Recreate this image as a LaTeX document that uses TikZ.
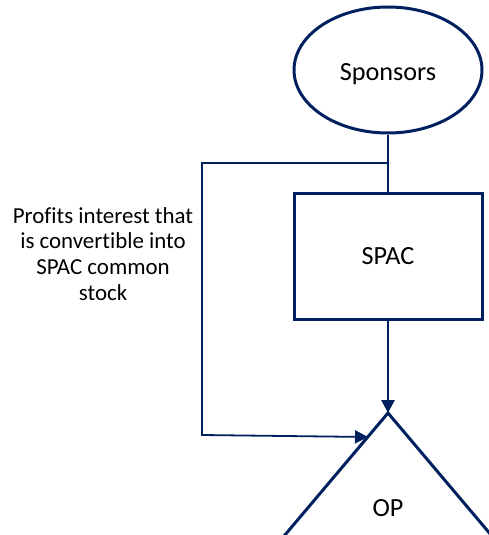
\documentclass[tikz,border=0pt]{standalone}
\usepackage{fontspec}
\setmainfont[RawFeature=-liga]{Carlito}
\usetikzlibrary{arrows.meta,shapes.geometric}
\definecolor{navy}{RGB}{0,32,96}
\begin{document}
\begin{tikzpicture}[x=1pt,y=-1pt,
  shapeline/.style={draw=navy,line width=3pt},
  thinline/.style={draw=navy,line width=1.6pt},
  boldarrow/.style={draw=navy,line width=2.8pt,-{Triangle[length=13pt,width=13pt]}},
  lightarrow/.style={draw=navy,line width=1.8pt,-{Triangle[length=13pt,width=13pt]}},
  bigtext/.style={font=\fontsize{26.2}{30}\selectfont},
  labeltext/.style={font=\fontsize{22.9}{25.8}\selectfont,align=center}
]
\useasboundingbox (0,0) rectangle (489,535);
\clip (0,0) rectangle (489,535);

% entities
\node[ellipse, shapeline, minimum width=188pt, minimum height=126pt, inner sep=0pt] (sponsors) at (388,70) {};
\node[bigtext] (sponsorsname) at (388,74.5) {Sponsors};
\node[rectangle, shapeline, minimum width=188pt, minimum height=126pt, inner sep=0pt, bigtext] (spac) at (388,256) {SPAC};

% OP triangle (base runs below the page edge)
\coordinate (apex) at (388,413);
\draw[shapeline, line join=miter] (230,600) -- (apex) -- (546,600);
\node[bigtext] (op) at (388,508) {OP};

% connection points
\coordinate (junc) at (388,163);
\coordinate (corner) at (202,435);
\coordinate (opin) at (368,437);

% connectors
\draw[thinline] (sponsors.south) -- (spac.north);
\draw[boldarrow] (spac.south) -- (apex);
\draw[lightarrow] (junc) -| (corner) -- (opin);

% label
\node[labeltext] (label) at (103,254) {Profits interest that\\is convertible into\\SPAC common\\stock};
\end{tikzpicture}
\end{document}
